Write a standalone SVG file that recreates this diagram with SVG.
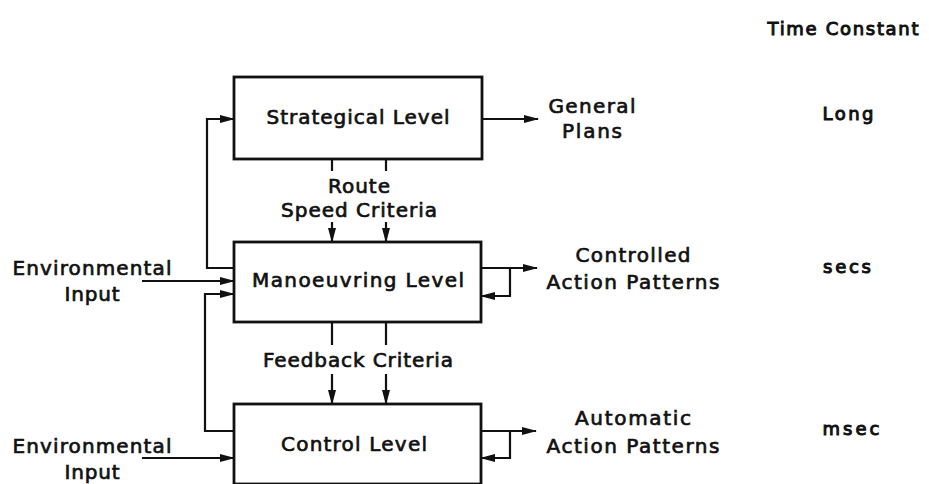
<svg xmlns="http://www.w3.org/2000/svg" width="929" height="484" viewBox="0 0 929 484">
<defs>
<marker id="ah" markerWidth="15" markerHeight="10" refX="14" refY="5" orient="auto" markerUnits="userSpaceOnUse">
<path d="M0,1 L15,5 L0,9 Z" fill="#111"/>
</marker>
<style>
.box{fill:#fff;stroke:#111;stroke-width:2.8}
.ln{fill:none;stroke:#111;stroke-width:2.2}
.t{font-family:"DejaVu Sans","Liberation Sans",sans-serif;font-size:20px;fill:#111;stroke:#111;stroke-width:0.7;text-anchor:middle}
.tb{font-size:18px;stroke-width:1}
</style>
</defs>
<rect width="929" height="484" fill="#fff"/>
<g id="connectors">
<path class="ln" d="M482,119 H538" stroke-width="3.4" marker-end="url(#ah)"/>
<path class="ln" d="M234,268 H207 V119 H234" marker-end="url(#ah)"/>
<path class="ln" d="M234,431 H205 V294 H234" marker-end="url(#ah)"/>
<path class="ln" d="M142,281 H234" marker-end="url(#ah)"/>
<path class="ln" d="M142,458 H234" marker-end="url(#ah)"/>
<path class="ln" d="M332,159 V171"/>
<path class="ln" d="M386,159 V171"/>
<path class="ln" d="M332,222 V242" marker-end="url(#ah)"/>
<path class="ln" d="M386,222 V242" marker-end="url(#ah)"/>
<path class="ln" d="M332,322 V345"/>
<path class="ln" d="M386,322 V345"/>
<path class="ln" d="M332,374 V404" marker-end="url(#ah)"/>
<path class="ln" d="M386,374 V404" marker-end="url(#ah)"/>
<path class="ln" d="M481,268 H537" marker-end="url(#ah)"/>
<path class="ln" d="M510,268 V296 H481" marker-end="url(#ah)"/>
<path class="ln" d="M481,431 H536" marker-end="url(#ah)"/>
<path class="ln" d="M510,431 V458 H481" marker-end="url(#ah)"/>
</g>
<g id="strategical">
<rect class="box" x="234" y="77" width="248" height="82"/>
<text class="t" x="358" y="124" textLength="183" lengthAdjust="spacing">Strategical Level</text>
</g>
<g id="manoeuvring">
<rect class="box" x="234" y="242" width="247" height="80"/>
<text class="t" x="358" y="287" textLength="212" lengthAdjust="spacing">Manoeuvring Level</text>
</g>
<g id="control">
<rect class="box" x="234" y="404" width="247" height="80"/>
<text class="t" x="354" y="451" textLength="146" lengthAdjust="spacing">Control Level</text>
</g>
<g id="labels">
<text class="t" x="359" y="193" textLength="62" lengthAdjust="spacing">Route</text>
<text class="t" x="359" y="217" textLength="156" lengthAdjust="spacing">Speed Criteria</text>
<text class="t" x="358" y="367" textLength="190" lengthAdjust="spacing">Feedback Criteria</text>
<text class="t" x="592" y="113" textLength="87" lengthAdjust="spacing">General</text>
<text class="t" x="592" y="138" textLength="60" lengthAdjust="spacing">Plans</text>
<text class="t" x="633" y="262" textLength="115" lengthAdjust="spacing">Controlled</text>
<text class="t" x="633" y="289" textLength="173" lengthAdjust="spacing">Action Patterns</text>
<text class="t" x="633" y="425" textLength="116" lengthAdjust="spacing">Automatic</text>
<text class="t" x="633" y="453" textLength="173" lengthAdjust="spacing">Action Patterns</text>
<text class="t" x="92" y="275" textLength="159" lengthAdjust="spacing">Environmental</text>
<text class="t" x="92" y="301" textLength="55" lengthAdjust="spacing">Input</text>
<text class="t" x="92" y="453" textLength="159" lengthAdjust="spacing">Environmental</text>
<text class="t" x="92" y="479" textLength="55" lengthAdjust="spacing">Input</text>
<text class="t tb" x="843" y="35" textLength="151" lengthAdjust="spacing">Time Constant</text>
<text class="t tb" x="848" y="120" textLength="51" lengthAdjust="spacing">Long</text>
<text class="t tb" x="847" y="273" textLength="48" lengthAdjust="spacing">secs</text>
<text class="t tb" x="851" y="435" textLength="57" lengthAdjust="spacing">msec</text>
</g>
</svg>
